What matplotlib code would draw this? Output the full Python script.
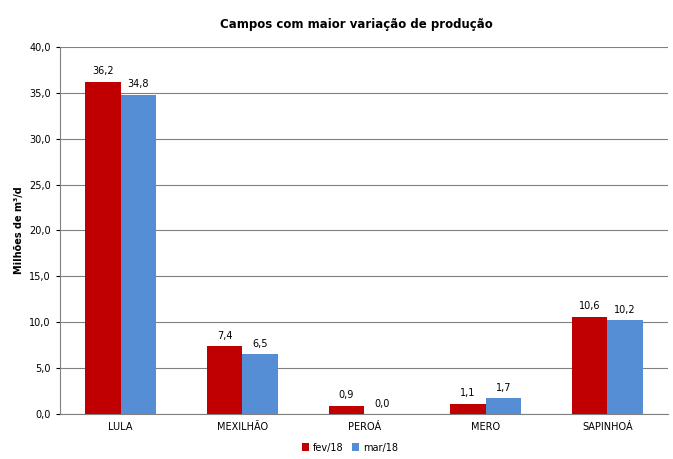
import numpy as np
import matplotlib.pyplot as plt

campos = ['LULA', 'MEXILHÃO', 'PEROÁ', 'MERO', 'SAPINHOÁ']
fev18 = [36.2, 7.4, 0.9, 1.1, 10.6]
mar18 = [34.8, 6.5, 0.0, 1.7, 10.2]

fmt = lambda v: ('%.1f' % v).replace('.', ',')

fig = plt.figure(figsize=(6.73, 4.59), dpi=100)
ax = fig.add_axes([0.089, 0.098, 0.904, 0.800])
x = np.arange(len(campos))
w = 0.29
b1 = ax.bar(x - w/2, fev18, w, color='#C00000', label='fev/18', zorder=3)
b2 = ax.bar(x + w/2, mar18, w, color='#558ED5', label='mar/18', zorder=3)
for bars, vals in ((b1, fev18), (b2, mar18)):
    for r, v in zip(bars, vals):
        ax.text(r.get_x() + r.get_width()/2, v + 0.6, fmt(v), ha='center', va='bottom', fontsize=7)

ax.set_xlim(-0.5, len(campos) - 0.5)
ax.set_ylim(0, 40)
yt = np.arange(0, 40.1, 5)
ax.set_yticks(yt)
ax.set_yticklabels([fmt(v) for v in yt], fontsize=7)
ax.set_xticks(x)
ax.set_xticklabels(campos, fontsize=7)
ax.tick_params(axis='x', length=0, pad=6)
ax.tick_params(axis='y', length=3)
ax.grid(axis='y', color='#808080', linewidth=0.8, zorder=0)
for s in ['top', 'right']:
    ax.spines[s].set_visible(False)
ax.spines['left'].set_color('#808080')
ax.spines['bottom'].set_color('#808080')
ax.set_ylabel('Milhões de m³/d', fontsize=7, fontweight='bold')
fig.text(0.53, 0.94, 'Campos com maior variação de produção', ha='center', fontsize=8.5, fontweight='bold')
fig.legend(loc='lower center', bbox_to_anchor=(0.52, -0.005), ncol=2, frameon=False, fontsize=7,
           handlelength=0.8, handleheight=0.8, columnspacing=0.8, handletextpad=0.4)
fig.savefig('out.png', dpi=100)
